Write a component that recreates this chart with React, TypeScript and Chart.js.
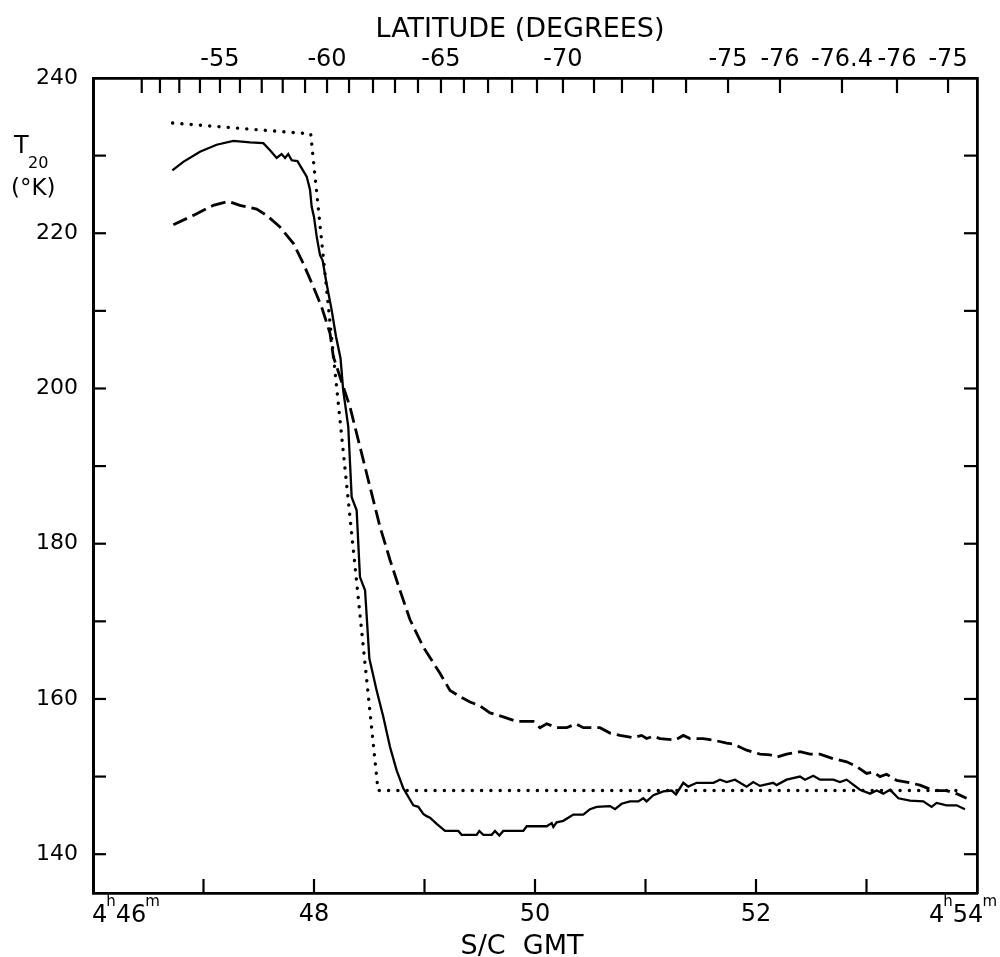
import { useEffect, useRef } from "react";
import { Chart, registerables } from "chart.js";
Chart.register(...registerables);

const FONT = "'DejaVu Sans', sans-serif";

// Solid curve (observed T20)
const solidTime = [46.718, 46.817, 46.968, 47.119, 47.27, 47.421, 47.541, 47.602, 47.662, 47.707, 47.738, 47.767, 47.798, 47.85, 47.888, 47.934, 47.964, 47.979, 48.0, 48.024, 48.054, 48.078, 48.114, 48.16, 48.199, 48.24, 48.264, 48.31, 48.341, 48.386, 48.416, 48.462, 48.501, 48.567, 48.627, 48.688, 48.748, 48.808, 48.899, 48.944, 48.989, 49.019, 49.05, 49.11, 49.186, 49.306, 49.336, 49.472, 49.496, 49.532, 49.608, 49.638, 49.677, 49.713, 49.894, 49.925, 50.106, 50.151, 50.166, 50.196, 50.256, 50.347, 50.437, 50.498, 50.558, 50.679, 50.724, 50.784, 50.86, 50.935, 50.98, 51.01, 51.071, 51.161, 51.237, 51.276, 51.342, 51.387, 51.463, 51.614, 51.674, 51.735, 51.81, 51.915, 51.975, 52.036, 52.156, 52.186, 52.277, 52.398, 52.443, 52.519, 52.579, 52.7, 52.76, 52.82, 52.941, 53.032, 53.092, 53.152, 53.213, 53.288, 53.394, 53.514, 53.589, 53.634, 53.725, 53.815, 53.891];
const solidTemp = [228.1, 229.2, 230.5, 231.4, 231.9, 231.7, 231.6, 230.7, 229.7, 230.2, 229.7, 230.2, 229.4, 229.3, 228.4, 227.3, 225.6, 223.4, 222.1, 219.6, 217.2, 216.5, 213.5, 210.1, 206.7, 203.9, 199.8, 195.1, 186.0, 184.3, 175.7, 174.0, 165.2, 161.1, 157.7, 153.8, 150.8, 148.5, 146.3, 146.1, 145.2, 144.9, 144.7, 143.9, 143.0, 143.0, 142.5, 142.5, 143.0, 142.5, 142.5, 143.0, 142.4, 143.0, 143.0, 143.6, 143.6, 144.0, 143.5, 144.1, 144.3, 145.1, 145.1, 145.8, 146.1, 146.2, 145.8, 146.5, 146.8, 146.8, 147.2, 146.8, 147.6, 148.1, 148.2, 147.7, 149.2, 148.7, 149.2, 149.2, 149.6, 149.3, 149.6, 148.7, 149.3, 148.8, 149.2, 148.9, 149.6, 150.0, 149.6, 150.1, 149.6, 149.6, 149.3, 149.6, 148.3, 147.8, 148.2, 147.8, 148.3, 147.2, 146.9, 146.8, 146.1, 146.6, 146.3, 146.3, 145.8];

// Dashed curve
const dashedTime = [46.727, 46.908, 47.089, 47.225, 47.33, 47.481, 47.572, 47.692, 47.813, 47.903, 47.994, 48.069, 48.145, 48.175, 48.326, 48.416, 48.507, 48.597, 48.688, 48.778, 48.869, 48.989, 49.14, 49.231, 49.321, 49.412, 49.502, 49.593, 49.713, 49.834, 49.985, 50.045, 50.106, 50.196, 50.287, 50.371, 50.437, 50.588, 50.679, 50.769, 50.89, 50.965, 51.01, 51.071, 51.131, 51.267, 51.342, 51.403, 51.523, 51.614, 51.735, 51.795, 51.915, 52.036, 52.127, 52.186, 52.277, 52.398, 52.489, 52.579, 52.7, 52.82, 52.911, 53.001, 53.062, 53.122, 53.182, 53.273, 53.393, 53.484, 53.604, 53.725, 53.815, 53.906];
const dashedTemp = [221.1, 222.3, 223.6, 224.1, 223.6, 223.1, 222.3, 220.8, 218.7, 216.1, 213.1, 210.5, 207.1, 204.1, 197.6, 192.5, 187.3, 182.2, 177.9, 174.0, 170.2, 166.7, 163.3, 161.1, 160.3, 159.6, 159.1, 158.2, 157.7, 157.1, 157.1, 156.3, 156.8, 156.3, 156.3, 156.8, 156.3, 156.3, 155.6, 155.3, 155.0, 155.3, 154.9, 155.2, 154.9, 154.7, 155.3, 154.9, 154.9, 154.7, 154.3, 154.2, 153.4, 152.9, 152.8, 152.5, 152.9, 153.2, 152.9, 152.9, 152.3, 151.9, 151.3, 150.4, 150.6, 150.0, 150.3, 149.5, 149.2, 148.9, 148.2, 148.2, 147.8, 147.2];

// Dotted model curve
const dottedTime = [46.72, 47.97, 48.58, 53.89];
const dottedTemp = [234.2, 232.8, 148.2, 148.2];

// Axes
const timeTicks = [46, 47, 48, 49, 50, 51, 52, 53, 54];
const timeLabels = ["", "", "48", "", "50", "", "52", "", ""];
const tempTicks = [140, 150, 160, 170, 180, 190, 200, 210, 220, 230, 240];
const latTickTimes = [46.441, 46.606, 46.781, 46.968, 47.149, 47.33, 47.527, 47.717, 47.919, 48.118, 48.317, 48.534, 48.733, 48.941, 49.149, 49.357, 49.575, 49.792, 50.018, 50.253, 50.534, 50.787, 51.068, 51.367, 51.747, 52.217, 52.778, 53.276, 53.738];
const latTickLabels = ["", "", "", "", "-55", "", "", "", "", "-60", "", "", "", "", "-65", "", "", "", "", "-70", "", "", "", "", "-75", "-76", "-76.4", "-76", "-75"];

const toXY = (xs: number[], ys: number[]) => xs.map((x, i) => ({ x, y: ys[i] }));

export default function App() {
  const ref = useRef<HTMLCanvasElement>(null);
  useEffect(() => {
    document.body.style.margin = "0";
    const canvas = ref.current!;

    const decor = {
      id: "decor",
      afterDraw(chart: any) {
        const c = chart.ctx as CanvasRenderingContext2D;
        const a = chart.chartArea;
        c.save();
        c.strokeStyle = "#000";
        c.fillStyle = "#000";
        c.lineWidth = 2.2;
        c.lineCap = "butt";
        const seg = (x1: number, y1: number, x2: number, y2: number) => {
          c.beginPath();
          c.moveTo(x1, y1);
          c.lineTo(x2, y2);
          c.stroke();
        };
        const xs = chart.scales.x;
        xs.ticks.forEach((t: any) => {
          const p = xs.getPixelForValue(t.value);
          if (p > a.left + 2 && p < a.right - 2) seg(p, a.bottom, p, a.bottom - 14);
        });
        const xt = chart.scales.xTop;
        xt.ticks.forEach((t: any) => {
          const p = xt.getPixelForValue(t.value);
          seg(p, a.top, p, a.top + 15);
        });
        const yl = chart.scales.y;
        yl.ticks.forEach((t: any) => {
          const p = yl.getPixelForValue(t.value);
          if (p > a.top + 2 && p < a.bottom - 2) seg(a.left, p, a.left + 13, p);
        });
        const yr = chart.scales.y2;
        yr.ticks.forEach((t: any) => {
          const p = yr.getPixelForValue(t.value);
          if (p > a.top + 2 && p < a.bottom - 2) seg(a.right, p, a.right - 13, p);
        });

        // time labels with superscripts
        const drawTime = (parts: [string, boolean][], x: number, align: "left" | "right") => {
          const big = `24px ${FONT}`;
          const small = `15px ${FONT}`;
          let w = 0;
          parts.forEach(([s, sup]) => {
            c.font = sup ? small : big;
            w += c.measureText(s).width - (sup ? 1 : 0);
          });
          let cx = align === "left" ? x : x - w;
          c.textAlign = "left";
          c.textBaseline = "alphabetic";
          parts.forEach(([s, sup]) => {
            c.font = sup ? small : big;
            c.fillText(s, sup ? cx - 1 : cx, sup ? 906 : 922);
            cx += c.measureText(s).width - (sup ? 1 : 0);
          });
        };
        drawTime([["4", false], ["h", true], ["46", false], ["m", true]], xs.getPixelForValue(46) - 1, "left");
        drawTime([["4", false], ["h", true], ["54", false], ["m", true]], xs.getPixelForValue(54) + 20, "right");

        // titles
        c.textAlign = "center";
        c.textBaseline = "alphabetic";
        c.font = `27px ${FONT}`;
        c.fillText("LATITUDE (DEGREES)", 520, 37);
        c.fillText("S/C  GMT", 522, 954);

        c.textAlign = "left";
        c.font = `24px ${FONT}`;
        c.fillText("T", 14, 153);
        c.font = `16px ${FONT}`;
        c.fillText("20", 28, 168);
        c.font = `23px ${FONT}`;
        c.fillText("(°K)", 11, 195);
        c.restore();
      },
    };

    const chart = new Chart(canvas, {
      type: "line",
      data: {
        datasets: [
          {
            data: toXY(solidTime, solidTemp),
            borderColor: "#000",
            borderWidth: 2.3,
            pointRadius: 0,
            tension: 0,
            fill: false,
          },
          {
            data: toXY(dashedTime, dashedTemp),
            borderColor: "#000",
            borderWidth: 2.8,
            borderDash: [15, 6],
            pointRadius: 0,
            tension: 0,
            fill: false,
          },
          {
            data: toXY(dottedTime, dottedTemp),
            borderColor: "#000",
            borderWidth: 3.4,
            borderDash: [0.1, 9.2],
            borderCapStyle: "round",
            pointRadius: 0,
            tension: 0,
            fill: false,
          },
        ],
      },
      plugins: [decor],
      options: {
        animation: false,
        responsive: false,
        maintainAspectRatio: false,
        layout: { padding: 0 },
        plugins: { legend: { display: false }, tooltip: { enabled: false }, title: { display: false } },
        scales: {
          x: {
            type: "linear",
            position: "bottom",
            min: 46,
            max: 54,
            afterBuildTicks: (s: any) => {
              s.ticks = timeTicks.map((v) => ({ value: v }));
            },
            afterFit: (s: any) => {
              s.height = 64;
            },
            grid: { display: false, drawTicks: false },
            border: { display: true, color: "#000", width: 2.8 },
            ticks: {
              autoSkip: false,
              maxRotation: 0,
              padding: 7,
              color: "#000",
              font: { family: FONT, size: 24 },
              callback: (v: any) => {
                const i = timeTicks.indexOf(Number(v));
                return i >= 0 ? timeLabels[i] : "";
              },
            },
          },
          xTop: {
            type: "linear",
            position: "top",
            min: 46,
            max: 54,
            afterBuildTicks: (s: any) => {
              s.ticks = latTickTimes.map((v) => ({ value: v }));
            },
            afterFit: (s: any) => {
              s.height = 78;
            },
            grid: { display: false, drawTicks: false },
            border: { display: true, color: "#000", width: 2.8 },
            ticks: {
              autoSkip: false,
              maxRotation: 0,
              padding: 4,
              color: "#000",
              font: { family: FONT, size: 24 },
              callback: (v: any, i: number) => latTickLabels[i] ?? "",
            },
          },
          y: {
            type: "linear",
            position: "left",
            min: 135,
            max: 240,
            afterBuildTicks: (s: any) => {
              s.ticks = tempTicks.map((v) => ({ value: v }));
            },
            afterFit: (s: any) => {
              s.width = 93;
            },
            grid: { display: false, drawTicks: false },
            border: { display: true, color: "#000", width: 3 },
            ticks: {
              autoSkip: false,
              padding: 15,
              color: "#000",
              font: { family: FONT, size: 22 },
              callback: (v: any) => (Number(v) % 20 === 0 ? String(v) : ""),
            },
          },
          y2: {
            type: "linear",
            position: "right",
            min: 135,
            max: 240,
            afterBuildTicks: (s: any) => {
              s.ticks = tempTicks.map((v) => ({ value: v }));
            },
            afterFit: (s: any) => {
              s.width = 23;
            },
            grid: { display: false, drawTicks: false },
            border: { display: true, color: "#000", width: 2.8 },
            ticks: { display: false },
          },
        },
      },
    } as any);
    return () => chart.destroy();
  }, []);
  return (
    <div style={{ width: 1000, height: 957 }}>
      <canvas ref={ref} width={1000} height={957} style={{ display: "block" }} />
    </div>
  );
}
